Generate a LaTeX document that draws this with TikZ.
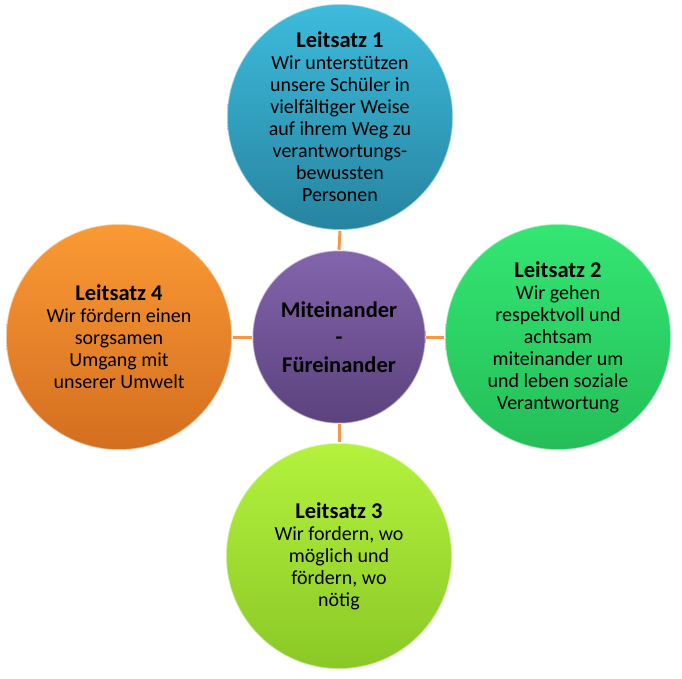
\documentclass[tikz,border=0pt]{standalone}
\usepackage{fontspec}
\setmainfont{Carlito}
\usepackage{tikz}
\usetikzlibrary{shapes,positioning,shadings}
\usepackage{xcolor}
\definecolor{lsteal}{RGB}{62,187,220}
\definecolor{lstealdark}{RGB}{38,132,160}
\definecolor{lspurple}{RGB}{130,100,172}
\definecolor{lspurpledark}{RGB}{92,66,126}
\definecolor{lsorange}{RGB}{250,154,52}
\definecolor{lsorangedark}{RGB}{212,110,32}
\definecolor{lsgreen}{RGB}{52,230,115}
\definecolor{lsgreendark}{RGB}{36,190,88}
\definecolor{lslime}{RGB}{180,242,62}
\definecolor{lslimedark}{RGB}{138,200,38}
\definecolor{linkorange}{RGB}{247,150,70}
\tikzstyle{link} = [line width=3pt, color=linkorange]
\tikzstyle{leitsatz} = [circle, minimum size=226pt, inner sep=0pt, draw=white, draw opacity=0.55, line width=1.5pt]
\tikzstyle{mitte} = [circle, minimum size=173pt, inner sep=0pt, draw=white, draw opacity=0.55, line width=1.5pt]
\tikzstyle{lstext} = [inner sep=0pt, align=center, font=\fontsize{20}{22}\selectfont]
\tikzstyle{mittetext} = [inner sep=0pt, align=center, font=\bfseries\fontsize{22.5}{27.5}\selectfont]
\newcommand{\lstitle}[1]{{\bfseries\fontsize{22.5}{22}\selectfont #1}}

\begin{document}
\begin{tikzpicture}[x=1pt, y=-1pt]
\useasboundingbox (0,0) rectangle (682,679);

% centre and the four Leitsaetze
\node[mitte, top color=lspurple, bottom color=lspurpledark] (mitte) at (339,337) {};
\node[leitsatz, top color=lsteal, bottom color=lstealdark] (ls1) at (340,117) {};
\node[leitsatz, top color=lsgreen, bottom color=lsgreendark] (ls2) at (558,337) {};
\node[leitsatz, top color=lslime, bottom color=lslimedark] (ls3) at (339,556) {};
\node[leitsatz, top color=lsorange, bottom color=lsorangedark] (ls4) at (119,337) {};

% Texte
\node[mittetext] (mittetx) at (mitte) {Miteinander\\-\\Füreinander};
\node[lstext] (ls1tx) at (ls1) {\lstitle{Leitsatz 1}\\Wir unterstützen\\unsere Schüler in\\vielfältiger Weise\\auf ihrem Weg zu\\verantwortungs-\\bewussten\\Personen};
\node[lstext] (ls2tx) at (ls2) {\lstitle{Leitsatz 2}\\Wir gehen\\respektvoll und\\achtsam\\miteinander um\\und leben soziale\\Verantwortung};
\node[lstext] (ls3tx) at (ls3) {\lstitle{Leitsatz 3}\\Wir fordern, wo\\möglich und\\fördern, wo\\nötig};
\node[lstext] (ls4tx) at (ls4) {\lstitle{Leitsatz 4}\\Wir fördern einen\\sorgsamen\\Umgang mit\\unserer Umwelt};

% Verbindungen
\draw[link] (mitte.north) -- (ls1.south);
\draw[link] (mitte.east) -- (ls2.west);
\draw[link] (mitte.south) -- (ls3.north);
\draw[link] (mitte.west) -- (ls4.east);
\end{tikzpicture}
\end{document}
